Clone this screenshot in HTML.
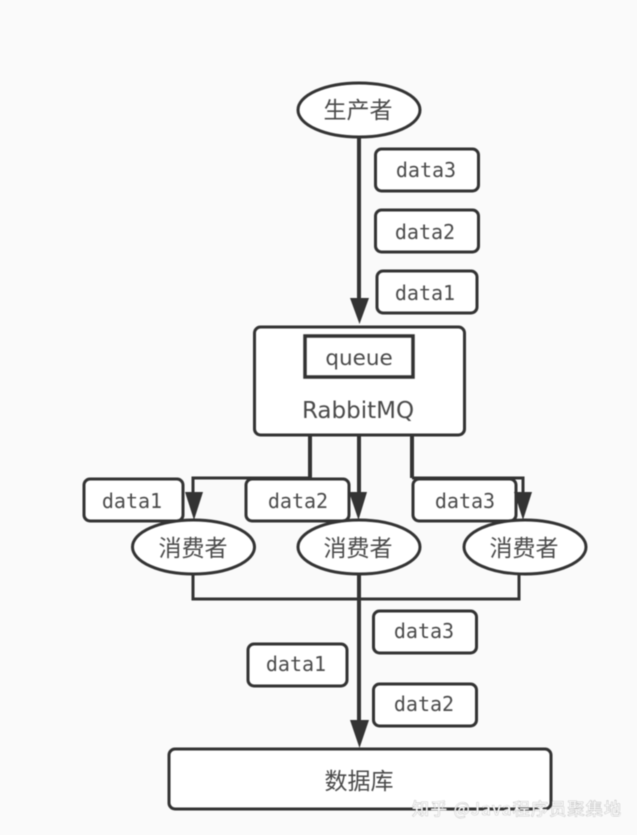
<!DOCTYPE html>
<html><head><meta charset="utf-8">
<style>
html,body{margin:0;padding:0;background:#fafafa;width:637px;height:835px;overflow:hidden}
svg{display:block;filter:blur(0.6px)}
text{font-family:"DejaVu Sans","Noto Sans CJK SC",sans-serif;fill:#4a4a4a;text-anchor:middle}
.z{font-family:"Noto Sans CJK SC",sans-serif;font-size:23px}
.d{font-family:"DejaVu Sans Mono","Liberation Mono",monospace;font-size:20px}
.q{font-size:21.500px}
.r{font-size:23px}
.b{fill:#fff;stroke:#333;stroke-width:3}
.l{fill:none;stroke:#333;stroke-width:4}
.t{fill:none;stroke:#333;stroke-width:3}
.a{fill:#333;stroke:none}
</style></head><body>
<svg width="637" height="835" viewBox="0 0 637 835" xmlns="http://www.w3.org/2000/svg">
<rect width="637" height="835" fill="#fafafa"/>

<path class="l" d="M359 136V300"/>
<path class="a" d="M350 298H369L359.500 324Z"/>
<ellipse class="b" cx="359" cy="110" rx="61" ry="27"/>
<text class="z" x="358" y="118">生产者</text>

<rect class="b" x="375.500" y="149" width="103" height="42" rx="6"/><text class="d" x="426" y="177">data3</text>
<rect class="b" x="375.500" y="210" width="103" height="42" rx="6"/><text class="d" x="425" y="239">data2</text>
<rect class="b" x="377" y="271" width="100" height="42" rx="6"/><text class="d" x="425" y="300">data1</text>

<rect class="b" x="254.500" y="327" width="210" height="108" rx="6"/>
<rect x="305" y="336" width="108" height="41" fill="#fff" stroke="#333" stroke-width="3.500"/>
<text class="q" x="359" y="365">queue</text>
<text class="r" x="358" y="418">RabbitMQ</text>

<path class="l" d="M310 436V478"/>
<path class="t" d="M193 495V478H310"/>
<path class="l" d="M359 436V495"/>
<path class="l" d="M412 436V478"/>
<path class="t" d="M412 478H523V495"/>

<rect class="b" x="84" y="479" width="99" height="42" rx="6"/><text class="d" x="132" y="508">data1</text>
<rect class="b" x="246" y="479" width="103" height="42" rx="6"/><text class="d" x="298" y="508">data2</text>
<rect class="b" x="413" y="479" width="103" height="42" rx="6"/><text class="d" x="465" y="508">data3</text>

<path class="a" d="M185 492H203L194 520Z"/>
<path class="a" d="M349 492H367L358.500 520Z"/>
<path class="a" d="M514 492H532L523 520Z"/>

<path class="t" d="M193 570V599H519V570"/>
<path class="l" d="M359 570V725"/>

<ellipse class="b" cx="193.500" cy="547" rx="61" ry="27"/><text class="z" x="193" y="556">消费者</text>
<ellipse class="b" cx="359" cy="547" rx="61" ry="27"/><text class="z" x="358" y="556">消费者</text>
<ellipse class="b" cx="525" cy="547" rx="61" ry="27"/><text class="z" x="524" y="556">消费者</text>

<rect class="b" x="373.500" y="611" width="103" height="42" rx="6"/><text class="d" x="424" y="638">data3</text>
<rect class="b" x="248" y="644" width="99" height="42" rx="6"/><text class="d" x="296" y="671">data1</text>
<rect class="b" x="373.500" y="684" width="103" height="42" rx="6"/><text class="d" x="424" y="711">data2</text>

<path class="a" d="M350 720H369L359.500 748Z"/>
<rect class="b" x="169" y="749" width="382" height="60" rx="6"/>
<text class="z" x="359" y="789">数据库</text>

<text x="412" y="815" textLength="209" style="font-family:'Noto Sans CJK SC',sans-serif;font-size:17px;text-anchor:start;fill:#fff;stroke:#999;stroke-width:0.6px;paint-order:stroke">知乎 @Java程序员聚集地</text>
</svg>
</body></html>
